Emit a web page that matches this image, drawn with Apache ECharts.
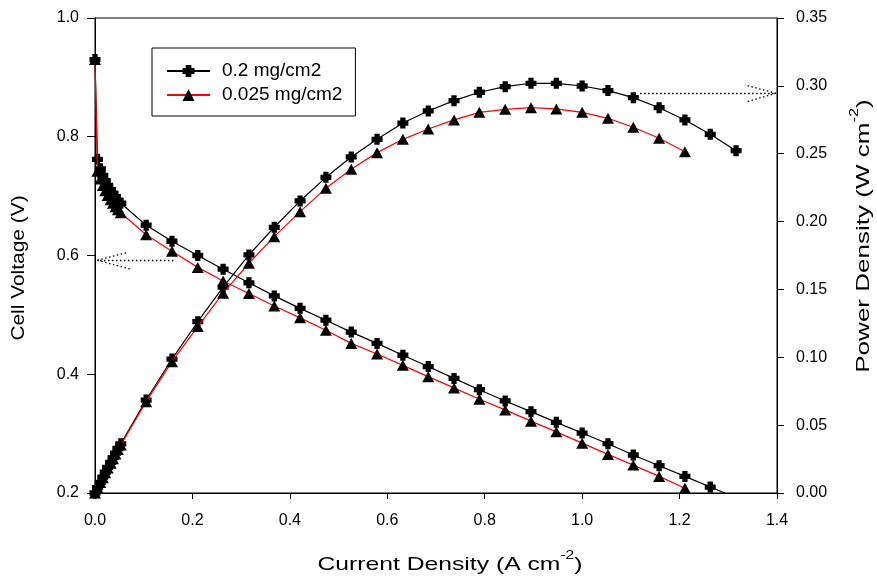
<!DOCTYPE html>
<html>
<head>
<meta charset="utf-8">
<script src="https://cdn.jsdelivr.net/npm/echarts@6/dist/echarts.min.js"></script>
<style>
html,body{margin:0;padding:0;background:#fff;}
#chart{width:877px;height:578px;}
</style>
</head>
<body>
<div id="chart"></div>
<script>
// ---- data ----
var currentA = [0, 0.005, 0.011, 0.016, 0.021, 0.026, 0.032, 0.037, 0.042, 0.047, 0.053,
  0.105, 0.158, 0.211, 0.263, 0.316, 0.368, 0.421, 0.474, 0.526, 0.579, 0.632, 0.684,
  0.737, 0.789, 0.842, 0.895, 0.947, 1.000, 1.053, 1.105, 1.158, 1.211, 1.263, 1.316];
var voltageA = [0.930, 0.762, 0.746, 0.735, 0.726, 0.718, 0.711, 0.705, 0.699, 0.693, 0.688,
  0.651, 0.624, 0.600, 0.577, 0.554, 0.532, 0.511, 0.491, 0.471, 0.452, 0.432, 0.413,
  0.393, 0.374, 0.355, 0.337, 0.319, 0.301, 0.283, 0.264, 0.246, 0.228, 0.210, 0.192];
var powerA = [0, 0.0040, 0.0079, 0.0117, 0.0153, 0.0189, 0.0225, 0.0260, 0.0294, 0.0328, 0.0362,
  0.0685, 0.0987, 0.1262, 0.1517, 0.1754, 0.1958, 0.2152, 0.2326, 0.2476, 0.2606, 0.2726, 0.2815,
  0.2891, 0.2953, 0.2994, 0.3019, 0.3019, 0.2999, 0.2965, 0.2913, 0.2839, 0.2749, 0.2643, 0.2522];

var currentB = [0, 0.005, 0.011, 0.016, 0.021, 0.026, 0.032, 0.037, 0.042, 0.047, 0.053,
  0.105, 0.158, 0.211, 0.263, 0.316, 0.368, 0.421, 0.474, 0.526, 0.579, 0.632, 0.684,
  0.737, 0.789, 0.842, 0.895, 0.947, 1.000, 1.053, 1.105, 1.158, 1.211];
var voltageB = [0.930, 0.742, 0.729, 0.718, 0.709, 0.701, 0.694, 0.688, 0.682, 0.677, 0.672,
  0.635, 0.607, 0.580, 0.557, 0.536, 0.515, 0.495, 0.474, 0.452, 0.434, 0.415, 0.396,
  0.377, 0.358, 0.340, 0.321, 0.303, 0.284, 0.265, 0.247, 0.228, 0.208];
var powerB = [0, 0.0039, 0.0077, 0.0113, 0.0150, 0.0184, 0.0219, 0.0253, 0.0287, 0.0321, 0.0354,
  0.0673, 0.0968, 0.1226, 0.1472, 0.1693, 0.1889, 0.2073, 0.2245, 0.2385, 0.2508, 0.2606, 0.2682,
  0.2749, 0.2805, 0.2827, 0.2839, 0.2830, 0.2805, 0.2761, 0.2695, 0.2614, 0.2515];

var seriesNames = ['0.2 mg/cm2', '0.025 mg/cm2'];
var xTicks = [0, 0.2, 0.4, 0.6, 0.8, 1.0, 1.2, 1.4];
var yLeftTicks = [0.2, 0.4, 0.6, 0.8, 1.0];
var yRightTicks = [0, 0.05, 0.10, 0.15, 0.20, 0.25, 0.30, 0.35];

// dotted arrow annotations (data coordinates)
var leftArrow = [  // voltage axis
  [[0.161, 0.592], [0.005, 0.592]],
  [[0.005, 0.592], [0.066, 0.605]],
  [[0.005, 0.592], [0.073, 0.577]]
];
var rightArrow = [ // power axis
  [[1.119, 0.2945], [1.398, 0.2945]],
  [[1.398, 0.2945], [1.334, 0.3007]],
  [[1.398, 0.2945], [1.338, 0.2883]]
];

function zip(xs, ys) { return xs.map(function (x, i) { return [x, ys[i]]; }); }
function segs(list) { return list.map(function (s) { return [{coord: s[0]}, {coord: s[1]}]; }); }

var crossSymbol = 'path://M2.6,0H7.4V2.6H10V7.4H7.4V10H2.6V7.4H0V2.6H2.6Z';
var FONT = 'Liberation Sans, Arial, sans-serif';

var arrowStyle = {color: '#000', width: 1.3, type: [1.5, 2.5]};

var richTitle = {
  b: {fontFamily: FONT, fontSize: 19, lineHeight: 24, fill: '#000', verticalAlign: 'bottom'},
  s: {fontFamily: FONT, fontSize: 12, lineHeight: 24, fill: '#000', verticalAlign: 'top'}
};

var chart = echarts.init(document.getElementById('chart'));
var option = {
  animation: false,
  backgroundColor: '#fff',
  grid: {left: 95, right: 100, top: 18, bottom: 85, show: true, borderColor: '#000', borderWidth: 1},
  legend: {
    data: seriesNames,
    orient: 'vertical',
    left: 152, top: 48,
    padding: [13, 13, 11, 14],
    itemGap: 4,
    itemWidth: 43, itemHeight: 15,
    borderColor: '#000', borderWidth: 1,
    textStyle: {fontFamily: FONT, fontSize: 19, color: '#000', lineHeight: 20, padding: [0, 0, 0, 7]}
  },
  xAxis: {
    type: 'value', min: 0, max: 1.4, interval: 0.2,
    axisLine: {lineStyle: {color: '#000', width: 1}},
    axisTick: {show: true, inside: false, length: 6, lineStyle: {color: '#000'}},
    splitLine: {show: false},
    axisLabel: {color: '#000', fontFamily: FONT, fontSize: 16, margin: 20,
      formatter: function (v) { return v.toFixed(1); }}
  },
  yAxis: [{
    type: 'value', min: 0.2, max: 1.0, interval: 0.2, position: 'left',
    axisLine: {show: true, lineStyle: {color: '#000', width: 1}},
    axisTick: {show: true, inside: false, length: 8, lineStyle: {color: '#000'}},
    splitLine: {show: false},
    axisLabel: {color: '#000', fontFamily: FONT, fontSize: 16, margin: 16,
      formatter: function (v) { return v.toFixed(1); }}
  }, {
    type: 'value', min: 0, max: 0.35, interval: 0.05, position: 'right',
    axisLine: {show: true, lineStyle: {color: '#000', width: 1}},
    axisTick: {show: true, inside: false, length: 7, lineStyle: {color: '#000'}},
    splitLine: {show: false},
    axisLabel: {color: '#000', fontFamily: FONT, fontSize: 16, margin: 19,
      formatter: function (v) { return v.toFixed(2); }}
  }],
  graphic: [
    {type: 'text', x: 450, y: 562, scaleX: 1.3, z: 10,
      style: {text: '{b|Current Density (A cm}{s|-2}{b|)}', align: 'center', verticalAlign: 'middle',
        rich: richTitle}},
    {type: 'text', x: 19, y: 268, scaleX: 1.1, rotation: Math.PI / 2, z: 10,
      style: {text: 'Cell Voltage (V)', align: 'center', verticalAlign: 'middle',
        fontFamily: FONT, fontSize: 19, fill: '#000'}},
    {type: 'text', x: 861, y: 236, scaleX: 1.37, rotation: Math.PI / 2, z: 10,
      style: {text: '{b|Power Density (W cm}{s|-2}{b|)}', align: 'center', verticalAlign: 'middle',
        rich: richTitle}}
  ],
  series: [
    {name: seriesNames[0], type: 'line', xAxisIndex: 0, yAxisIndex: 0, data: zip(currentA, voltageA),
      symbol: crossSymbol, symbolSize: 11, showAllSymbol: true, clip: true, z: 3,
      lineStyle: {color: '#000', width: 1.2}, itemStyle: {color: '#000'},
      markLine: {silent: true, symbol: ['none', 'none'], label: {show: false}, lineStyle: arrowStyle,
        emphasis: {disabled: true}, data: segs(leftArrow)}},
    {name: seriesNames[0], type: 'line', xAxisIndex: 0, yAxisIndex: 1, data: zip(currentA, powerA),
      symbol: crossSymbol, symbolSize: 11, showAllSymbol: true, clip: true, z: 3,
      lineStyle: {color: '#000', width: 1.2}, itemStyle: {color: '#000'},
      markLine: {silent: true, symbol: ['none', 'none'], label: {show: false}, lineStyle: arrowStyle,
        emphasis: {disabled: true}, data: segs(rightArrow)}},
    {name: seriesNames[1], type: 'line', xAxisIndex: 0, yAxisIndex: 0, data: zip(currentB, voltageB),
      symbol: 'triangle', symbolSize: [12, 11], showAllSymbol: true, clip: true, z: 4,
      lineStyle: {color: '#ff0000', width: 1.2}, itemStyle: {color: '#000'}},
    {name: seriesNames[1], type: 'line', xAxisIndex: 0, yAxisIndex: 1, data: zip(currentB, powerB),
      symbol: 'triangle', symbolSize: [12, 11], showAllSymbol: true, clip: true, z: 4,
      lineStyle: {color: '#ff0000', width: 1.2}, itemStyle: {color: '#000'}}
  ]
};
chart.setOption(option);
</script>
</body>
</html>
